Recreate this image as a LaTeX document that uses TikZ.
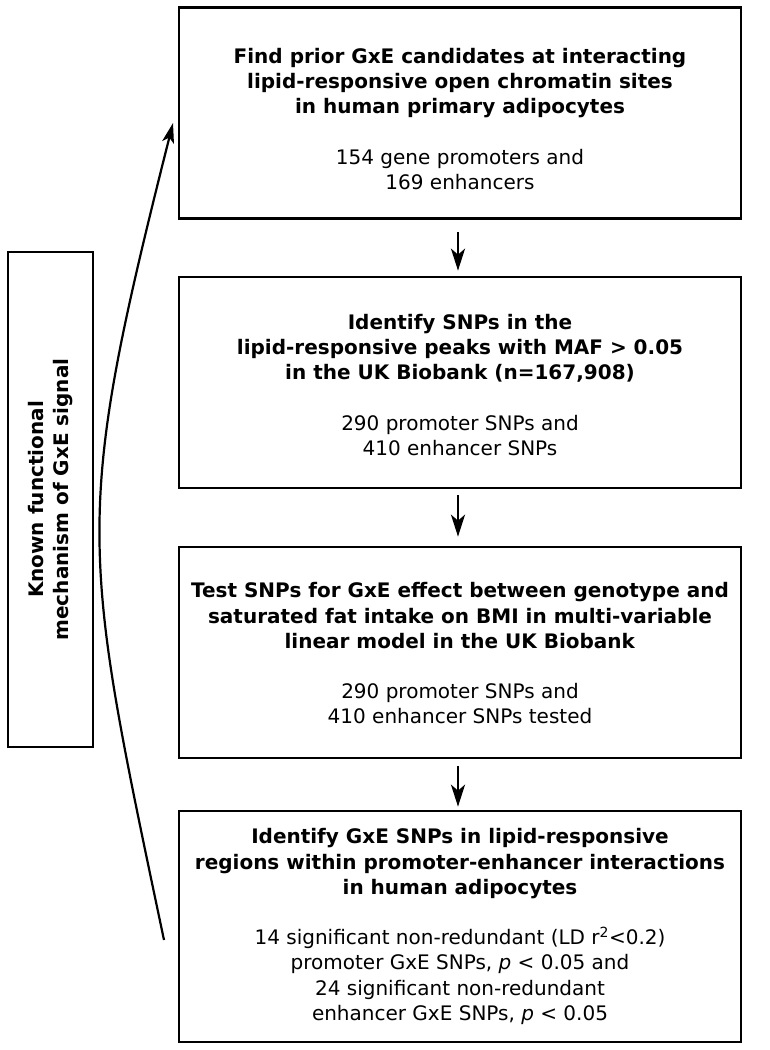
\documentclass[tikz,border=0pt]{standalone}
\usepackage{fontspec}
\setmainfont{DejaVu Sans}
\usetikzlibrary{arrows.meta}
\begin{document}
\begin{tikzpicture}[x=1pt,y=-1pt,
  stepbox/.style={draw=black,line width=2.7pt,minimum width=562pt,inner sep=0pt},
  steptext/.style={align=center,inner sep=0pt,font=\fontsize{20}{25.2}\selectfont},
  sidebox/.style={draw=black,line width=2.7pt,minimum width=85pt,minimum height=495pt,inner sep=0pt},
  flow/.style={line width=2.6pt,-{Stealth[length=22pt,width=14pt,inset=6pt]}},
  loop/.style={line width=2.2pt,-{Stealth[length=20pt,width=12pt,inset=5pt]}}]
\useasboundingbox (0,0) rectangle (770,1050);
\node[stepbox,minimum height=211pt] (b1) at (460,113) {};
\node[steptext] (t1) at ([yshift=-6pt]b1.center) {\textbf{Find prior GxE candidates at interacting}\\
\textbf{lipid-responsive open chromatin sites}\\
\textbf{in human primary adipocytes}\\[25.2pt]
154 gene promoters and\\
169 enhancers};
\node[stepbox,minimum height=211pt] (b2) at (460,382.5) {};
\node[steptext] (t2) at ([yshift=-2.5pt]b2.center) {\textbf{Identify SNPs in the}\\
\textbf{lipid-responsive peaks with MAF > 0.05}\\
\textbf{in the UK Biobank (n=167,908)}\\[25.2pt]
290 promoter SNPs and\\
410 enhancer SNPs};
\node[stepbox,minimum height=211pt] (b3) at (460,652.5) {};
\node[steptext] (t3) at ([yshift=-1pt]b3.center) {\textbf{Test SNPs for GxE effect between genotype and}\\
\textbf{saturated fat intake on BMI in multi-variable}\\
\textbf{linear model in the UK Biobank}\\[25.2pt]
290 promoter SNPs and\\
410 enhancer SNPs tested};
\node[stepbox,minimum height=231pt] (b4) at (460,926.5) {};
\node[steptext] (t4) at (b4.center) {\textbf{Identify GxE SNPs in lipid-responsive}\\
\textbf{regions within promoter-enhancer interactions}\\
\textbf{in human adipocytes}\\[25.2pt]
14 significant non-redundant (LD r\textsuperscript{2}<0.2)\\
promoter GxE SNPs, \textit{p} < 0.05 and\\
24 significant non-redundant\\
enhancer GxE SNPs, \textit{p} < 0.05};
\node[sidebox] (side) at (50.5,499.5) {};
\node[rotate=90,align=center,inner sep=0pt,font=\fontsize{20}{25}\selectfont\bfseries] (sidetext) at (side.center) {Known functional\\mechanism of GxE signal};
\draw[flow] ([xshift=-2pt,yshift=-12pt]b1.south) -- ([xshift=-2pt,yshift=5pt]b2.north);
\draw[flow] ([xshift=-2pt,yshift=-6pt]b2.south) -- ([xshift=-2pt,yshift=9pt]b3.north);
\draw[flow] ([xshift=-2pt,yshift=-7pt]b3.south) -- ([xshift=-2pt,yshift=3pt]b4.north);
\coordinate (cstart) at (164,940);
\coordinate (cend) at (173,123);
\draw[loop] (cstart) .. controls (81,546) and (73,519) .. (cend);
\end{tikzpicture}
\end{document}
